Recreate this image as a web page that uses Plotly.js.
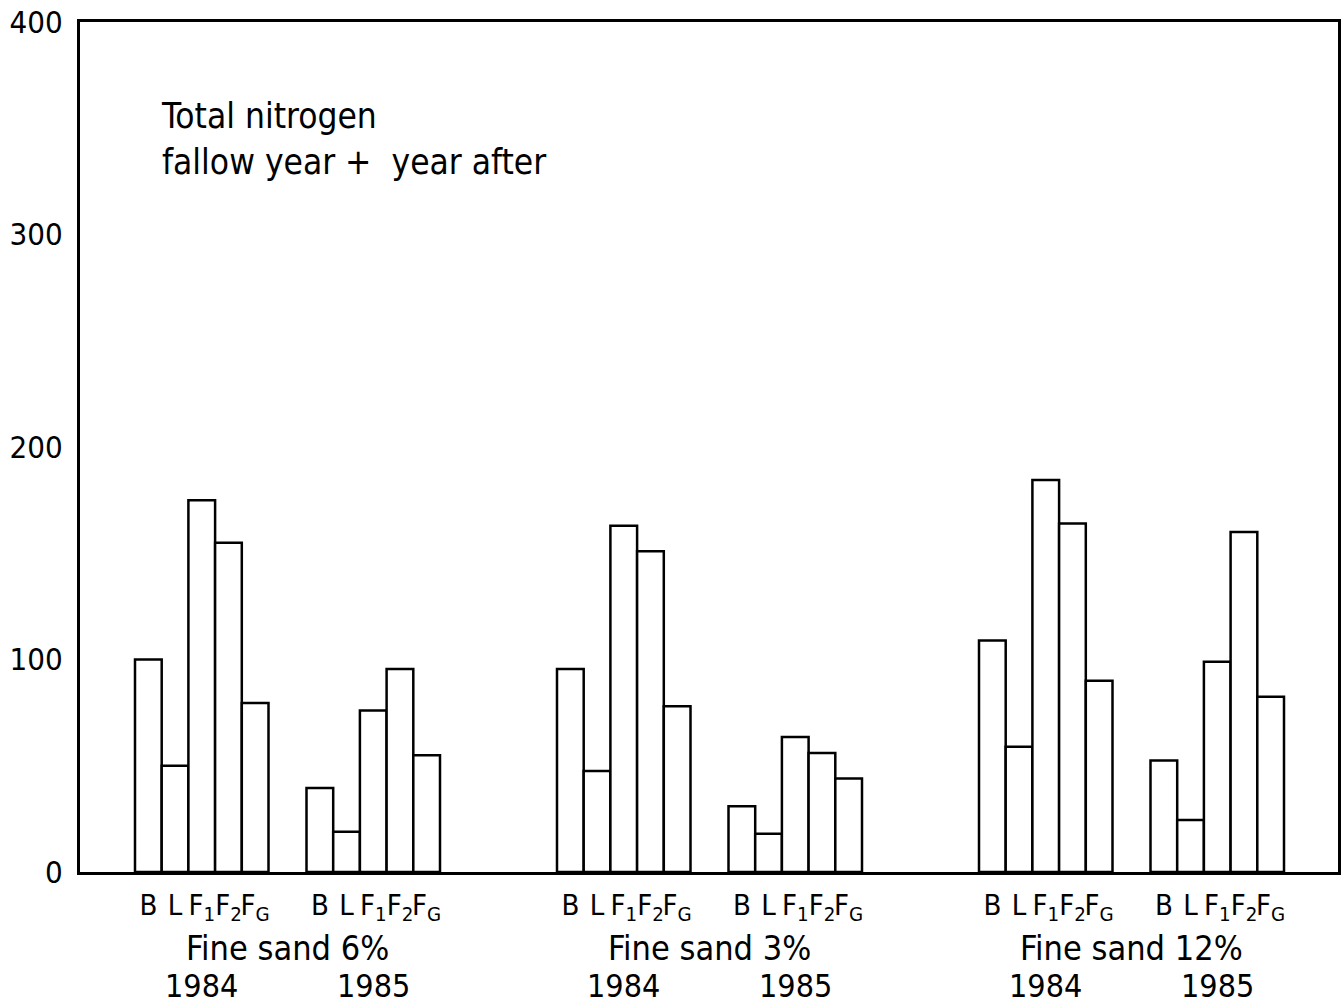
<!DOCTYPE html>
<html>
<head>
<meta charset="utf-8">
<script src="https://cdn.plot.ly/plotly-3.0.1.min.js"></script>
<style>
  html, body { margin: 0; padding: 0; background: #fff; }
  #chart { width: 1343px; height: 1004px; }
</style>
</head>
<body>
<div id="chart"></div>
<script>
// Total nitrogen per treatment, fallow year and the year after
const soils = ['Fine sand 6%', 'Fine sand 3%', 'Fine sand 12%'];
const years = ['1984', '1985'];
const treatments = ['B', 'L', 'F<sub>1</sub>', 'F<sub>2</sub>', 'F<sub>G</sub>'];

const sand6_1984 = [100, 50, 175, 155, 79.5];
const sand6_1985 = [39.5, 19, 76, 95.5, 55];
const sand3_1984 = [95.5, 47.5, 163, 151, 78];
const sand3_1985 = [31, 18, 63.5, 56, 44];
const sand12_1984 = [109, 59, 184.5, 164, 90];
const sand12_1985 = [52.5, 24.5, 99, 160, 82.5];

const yTicks = [0, 100, 200, 300, 400];

const blocks = [
  [sand6_1984, sand6_1985],
  [sand3_1984, sand3_1985],
  [sand12_1984, sand12_1985]
];

// Horizontal layout in plot units (one unit ~ one pixel of plot width)
const plotSpan = 1258;
const barW = 26.7;
const firstStart = 55;
const yearGap = 38;
const soilGap = 117;
const blockW = barW * treatments.length;

const font = 'DejaVu Sans Condensed, DejaVu Sans, Liberation Sans Narrow, sans-serif';

const xs = [], ys = [], tickVals = [], tickText = [];
const annotations = [];
let start = firstStart;
blocks.forEach((pair, si) => {
  const yearCenters = [];
  pair.forEach((vals, yi) => {
    vals.forEach((v, ti) => {
      const cx = start + barW * (ti + 0.5);
      xs.push(cx);
      ys.push(v);
      tickVals.push(cx);
      tickText.push(treatments[ti]);
    });
    const c = start + blockW / 2;
    yearCenters.push(c);
    annotations.push({
      x: c, xref: 'x', y: -0.134, yref: 'paper',
      text: years[yi], showarrow: false, xanchor: 'center', yanchor: 'middle',
      font: {family: font, size: 32, color: '#000'}
    });
    start += blockW + (yi === 0 ? yearGap : soilGap);
  });
  annotations.push({
    x: (yearCenters[0] + yearCenters[1]) / 2, xref: 'x', y: -0.089, yref: 'paper',
    text: soils[si], showarrow: false, xanchor: 'center', yanchor: 'middle',
    font: {family: font, size: 34, color: '#000'}
  });
});

annotations.push({
  x: 0.063, xref: 'paper', y: 0.915, yref: 'paper',
  text: 'Total nitrogen<br>fallow year +  year after',
  showarrow: false, xanchor: 'left', yanchor: 'top', align: 'left',
  font: {family: font, size: 35, color: '#000'}
});

const trace = {
  type: 'bar',
  x: xs,
  y: ys,
  width: xs.map(() => barW),
  marker: {color: '#fff', line: {color: '#000', width: 2.5}},
  hoverinfo: 'skip',
  showlegend: false
};

const layout = {
  width: 1343,
  height: 1004,
  margin: {l: 80, r: 5, t: 22, b: 132},
  paper_bgcolor: '#fff',
  plot_bgcolor: '#fff',
  font: {family: font, color: '#000'},
  xaxis: {
    range: [0, plotSpan],
    showgrid: false, zeroline: false,
    showline: true, linecolor: '#000', linewidth: 3, mirror: true,
    ticks: '',
    tickangle: 0,
    tickmode: 'array', tickvals: tickVals, ticktext: tickText,
    tickfont: {family: font, size: 29, color: '#000'},
    ticklabelstandoff: 5
  },
  yaxis: {
    range: [0, 400],
    showgrid: false, zeroline: false,
    showline: true, linecolor: '#000', linewidth: 3, mirror: true,
    ticks: '',
    tickmode: 'array', tickvals: yTicks, ticktext: yTicks.map(String),
    tickfont: {family: font, size: 31, color: '#000'},
    ticklabelstandoff: 8
  },
  annotations: annotations
};

Plotly.newPlot('chart', [trace], layout, {displayModeBar: false, staticPlot: true});
</script>
</body>
</html>
